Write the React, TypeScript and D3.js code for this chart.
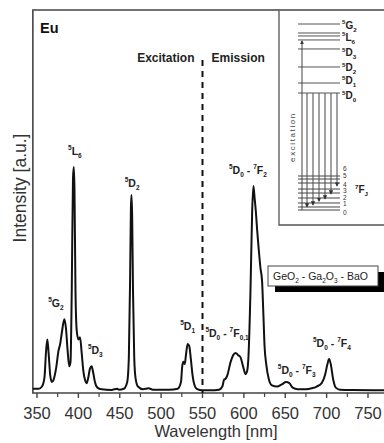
import React from 'react';
import * as d3 from 'd3';

// excitation spectrum (monitored 612 nm)
const excitationWl = [345, 352, 356, 359, 361, 362.5, 364, 366, 368, 370, 373, 376, 378, 380, 383, 385, 387, 389, 390.5, 392, 393.5, 394.5, 395.3, 396.5, 398, 400, 402, 404, 406, 408, 410, 412, 414, 416, 418, 420, 423, 428, 440, 447, 449, 455, 459, 461, 462.5, 463.5, 464.2, 465, 466, 467.5, 469, 472, 478, 485, 490, 510, 520, 524, 525.5, 527, 528.5, 530, 532, 534, 536, 538, 540, 543];
const excitationInt = [0.01, 0.01, 0.02, 0.06, 0.18, 0.23, 0.17, 0.07, 0.04, 0.05, 0.1, 0.18, 0.21, 0.26, 0.32, 0.28, 0.18, 0.11, 0.13, 0.45, 0.95, 1.0, 0.9, 0.45, 0.27, 0.23, 0.24, 0.17, 0.09, 0.05, 0.035, 0.06, 0.1, 0.11, 0.08, 0.04, 0.015, 0.008, 0.005, 0.01, 0.006, 0.01, 0.04, 0.15, 0.5, 0.82, 0.875, 0.78, 0.45, 0.15, 0.06, 0.02, 0.008, 0.012, 0.006, 0.006, 0.01, 0.04, 0.11, 0.13, 0.12, 0.16, 0.21, 0.2, 0.14, 0.07, 0.03, 0.01];

// emission spectrum (excited 394 nm)
const emissionWl = [550, 560, 570, 574, 576, 578, 580, 584, 587, 590, 593, 596, 599, 602, 604, 605.5, 608, 610, 611.5, 613, 614.5, 616, 618, 620, 622, 623.5, 625, 627, 630, 634, 640, 646, 651, 655, 659, 665, 675, 682, 688, 694, 698, 701, 703, 705, 708, 711, 716, 730, 775];
const emissionInt = [0.003, 0.003, 0.006, 0.02, 0.05, 0.055, 0.07, 0.13, 0.16, 0.17, 0.16, 0.15, 0.11, 0.075, 0.09, 0.15, 0.45, 0.8, 0.915, 0.86, 0.8, 0.72, 0.63, 0.55, 0.49, 0.35, 0.2, 0.12, 0.055, 0.025, 0.02, 0.03, 0.04, 0.035, 0.015, 0.008, 0.008, 0.012, 0.02, 0.035, 0.07, 0.12, 0.143, 0.12, 0.05, 0.015, 0.006, 0.004, 0.003];

const xTicks = [350, 400, 450, 500, 550, 600, 650, 700, 750];
const minorTicks = [375, 425, 475, 525, 575, 625, 675, 725, 775];

// peak labels (label anchor given in nm on the wavelength axis)
const peakLabelWl = [363.5, 387.5, 411.5, 456, 523, 553.5, 582, 641, 683.5];
const peakLabelY = [307, 155, 354, 187, 330, 337, 174, 374, 347];
const peakTerms = [
  [['5', 'G', '2']],
  [['5', 'L', '6']],
  [['5', 'D', '3']],
  [['5', 'D', '2']],
  [['5', 'D', '1']],
  [['5', 'D', '0'], ['7', 'F', '0,1']],
  [['5', 'D', '0'], ['7', 'F', '2']],
  [['5', 'D', '0'], ['7', 'F', '3']],
  [['5', 'D', '0'], ['7', 'F', '4']],
];

// inset: energy level diagram (cm^-1, approx.)
const upperLevels = [27490, 26160, 25720, 25130, 23800, 21135, 18770, 17290];
const upperNames = [['5', 'G', '2'], ['5', 'L', '6'], ['5', 'D', '3'], ['5', 'D', '2'], ['5', 'D', '1'], ['5', 'D', '0']];
const upperNameE = [26900, 25130, 22900, 20690, 18770, 16550];
const lowerLevels = [5025, 4580, 3990, 3100, 2510, 1775, 1035, 445, 0];
const jLabels = ['0', '1', '2', '3', '4', '5', '6'];
const jLabelE = [-420, 890, 1775, 2810, 3840, 5100, 6150];
const emissionLineX = [307, 313, 319, 325, 331, 337];
const emissionLineEnd = [445, 750, 1300, 1640, 2360, 3540];

const FONT = '"Liberation Sans", Arial, sans-serif';

const Term = ({ x, y, terms, size = 10.5 }) => {
  const sm = size * 0.62;
  const up = size * 0.45;
  const down = size * 0.3;
  const parts = [];
  terms.forEach((t, i) => {
    if (i > 0) parts.push(<tspan key={`s${i}`} fontSize={size} dy={-down}>{' - '}</tspan>);
    parts.push(<tspan key={`a${i}`} fontSize={sm} dy={-up}>{t[0]}</tspan>);
    parts.push(<tspan key={`b${i}`} fontSize={size} dy={up}>{t[1]}</tspan>);
    parts.push(<tspan key={`c${i}`} fontSize={sm} dy={down}>{t[2]}</tspan>);
  });
  return (
    <text x={x} y={y} fontFamily={FONT} fontSize={size} fontWeight="bold" fill="#222">{parts}</text>
  );
};

export default function App() {
  const width = 384;
  const height = 443;

  const x = d3.scaleLinear().domain([350, 750]).range([37, 368]);
  const y = d3.scaleLinear().domain([0, 1.7]).range([391, 10]);

  const left = x(345);
  const top = 10;
  const bottom = 393;
  const right = x(775);

  const spectrum = [
    ...excitationWl.map((w, i) => [w, excitationInt[i]]),
    ...emissionWl.map((w, i) => [w, emissionInt[i]]),
  ];
  const line = d3.line().x(d => x(d[0])).y(d => y(d[1])).curve(d3.curveMonotoneX);

  const e = d3.scaleLinear().domain([0, 27490]).range([210, 24]);
  const insetL = 279;

  return (
    <div style={{ position: 'absolute', left: 0, top: 0 }}>
      <svg width={width} height={height} style={{ display: 'block', background: '#fff' }}>
        <defs>
          <marker id="ah" viewBox="0 0 6 6" refX="5" refY="3" markerWidth="4" markerHeight="4" orient="auto">
            <path d="M0,0 L6,3 L0,6 z" fill="#333" />
          </marker>
        </defs>

        {/* frame */}
        <path d={`M${right},${top} L${left},${top} L${left},${bottom} L${right},${bottom}`} fill="none" stroke="#444" strokeWidth={1.6} />

        {/* ticks */}
        {xTicks.map(t => (
          <g key={t}>
            <line x1={x(t)} x2={x(t)} y1={bottom} y2={bottom + 5} stroke="#444" strokeWidth={1.4} />
            <text x={x(t)} y={419} textAnchor="middle" fontFamily={FONT} fontSize={16.5} fill="#333">{t}</text>
          </g>
        ))}
        {minorTicks.map(t => (
          <line key={t} x1={x(t)} x2={x(t)} y1={bottom} y2={bottom + 4} stroke="#444" strokeWidth={1.2} />
        ))}

        <text x={216} y={437} textAnchor="middle" fontFamily={FONT} fontSize={16.5} fill="#333">Wavelength [nm]</text>
        <text transform="translate(26,188) rotate(-90)" textAnchor="middle" fontFamily={FONT} fontSize={17.5} fill="#333">Intensity [a.u.]</text>

        {/* spectrum */}
        <path d={line(spectrum)} fill="none" stroke="#111" strokeWidth={2} strokeLinejoin="round" />

        {/* excitation / emission divider */}
        <line x1={x(550)} x2={x(550)} y1={60} y2={bottom} stroke="#111" strokeWidth={2} strokeDasharray="6,5" />
        <text x={x(550) - 8} y={62} textAnchor="end" fontFamily={FONT} fontWeight="bold" fontSize={12} fill="#222">Excitation</text>
        <text x={x(550) + 9} y={62} fontFamily={FONT} fontWeight="bold" fontSize={12} fill="#222">Emission</text>
        <text x={40} y={33} fontFamily={FONT} fontWeight="bold" fontSize={14.5} fill="#111">Eu</text>

        {/* peak labels */}
        {peakLabelWl.map((w, i) => (
          <Term key={i} x={x(w)} y={peakLabelY[i]} terms={peakTerms[i]} />
        ))}

        {/* inset */}
        <path d={`M${insetL},${top} L${insetL},225 L${width + 5},225`} fill="#fff" stroke="#555" strokeWidth={1.3} />
        {upperLevels.map((lv, i) => (
          <line key={i} x1={298} x2={340} y1={e(lv)} y2={e(lv)} stroke="#555" strokeWidth={1} />
        ))}
        {lowerLevels.map((lv, i) => (
          <line key={i} x1={298} x2={340} y1={e(lv)} y2={e(lv)} stroke="#444" strokeWidth={1} />
        ))}
        <line x1={302} x2={302} y1={e(0)} y2={e(25130) + 1} stroke="#444" strokeWidth={1} markerEnd="url(#ah)" />
        {emissionLineX.map((lx, i) => (
          <line key={i} x1={lx} x2={lx} y1={e(17290)} y2={e(emissionLineEnd[i])} stroke="#555" strokeWidth={1.1} markerEnd="url(#ah)" />
        ))}
        {upperNames.map((n, i) => (
          <Term key={i} x={342} y={e(upperNameE[i]) + 1} terms={[n]} size={10} />
        ))}
        {jLabels.map((j, i) => (
          <text key={j} x={343} y={e(jLabelE[i]) + 2.5} fontFamily={FONT} fontSize={6.5} fill="#333">{j}</text>
        ))}
        <Term x={355} y={193} terms={[['7', 'F', 'J']]} size={10} />
        <text transform="translate(295,137) rotate(-90)" textAnchor="middle" fontFamily={FONT} fontSize={8} letterSpacing={1.6} fill="#444">excitation</text>

        {/* glass composition box */}
        <rect x={275} y={272} width={112} height={20} fill="#000" />
        <rect x={268} y={266} width={110} height={20} fill="#fff" stroke="#444" strokeWidth={1} />
        <text x={273} y={280} fontFamily={FONT} fontSize={10.5} fill="#222">
          GeO<tspan fontSize={6.5} dy={3}>2</tspan><tspan dy={-3}> - Ga</tspan><tspan fontSize={6.5} dy={3}>2</tspan><tspan dy={-3}>O</tspan><tspan fontSize={6.5} dy={3}>3</tspan><tspan dy={-3}> - BaO</tspan>
        </text>
      </svg>
    </div>
  );
}
